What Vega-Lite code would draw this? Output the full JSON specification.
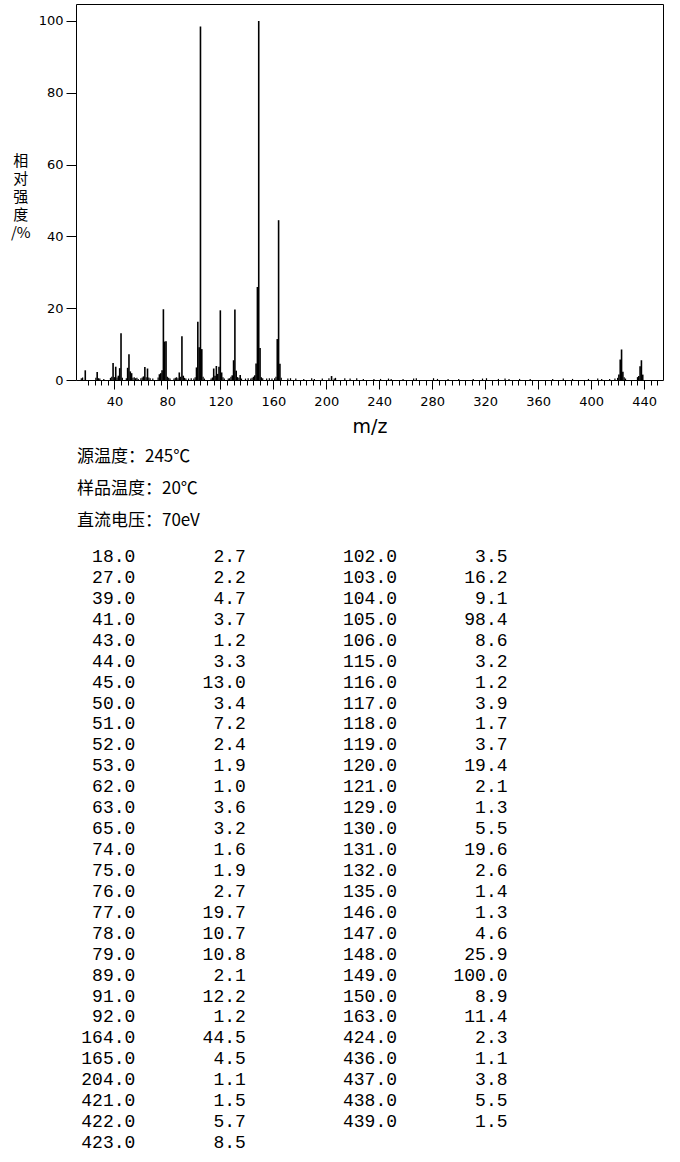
{
  "$schema": "https://vega.github.io/schema/vega-lite/v6.json",
  "background": "white",
  "padding": {"left": 9, "top": 3, "right": 0, "bottom": 0},
  "spacing": 4,
  "config": {"view": {"stroke": null}},
  "datasets": {
    "peaks": [
      {"mz": 18, "inten": 2.7, "col": 1, "row": 1},
      {"mz": 27, "inten": 2.2, "col": 1, "row": 2},
      {"mz": 39, "inten": 4.7, "col": 1, "row": 3},
      {"mz": 41, "inten": 3.7, "col": 1, "row": 4},
      {"mz": 43, "inten": 1.2, "col": 1, "row": 5},
      {"mz": 44, "inten": 3.3, "col": 1, "row": 6},
      {"mz": 45, "inten": 13.0, "col": 1, "row": 7},
      {"mz": 50, "inten": 3.4, "col": 1, "row": 8},
      {"mz": 51, "inten": 7.2, "col": 1, "row": 9},
      {"mz": 52, "inten": 2.4, "col": 1, "row": 10},
      {"mz": 53, "inten": 1.9, "col": 1, "row": 11},
      {"mz": 62, "inten": 1.0, "col": 1, "row": 12},
      {"mz": 63, "inten": 3.6, "col": 1, "row": 13},
      {"mz": 65, "inten": 3.2, "col": 1, "row": 14},
      {"mz": 74, "inten": 1.6, "col": 1, "row": 15},
      {"mz": 75, "inten": 1.9, "col": 1, "row": 16},
      {"mz": 76, "inten": 2.7, "col": 1, "row": 17},
      {"mz": 77, "inten": 19.7, "col": 1, "row": 18},
      {"mz": 78, "inten": 10.7, "col": 1, "row": 19},
      {"mz": 79, "inten": 10.8, "col": 1, "row": 20},
      {"mz": 89, "inten": 2.1, "col": 1, "row": 21},
      {"mz": 91, "inten": 12.2, "col": 1, "row": 22},
      {"mz": 92, "inten": 1.2, "col": 1, "row": 23},
      {"mz": 164, "inten": 44.5, "col": 1, "row": 24},
      {"mz": 165, "inten": 4.5, "col": 1, "row": 25},
      {"mz": 204, "inten": 1.1, "col": 1, "row": 26},
      {"mz": 421, "inten": 1.5, "col": 1, "row": 27},
      {"mz": 422, "inten": 5.7, "col": 1, "row": 28},
      {"mz": 423, "inten": 8.5, "col": 1, "row": 29},
      {"mz": 102, "inten": 3.5, "col": 2, "row": 1},
      {"mz": 103, "inten": 16.2, "col": 2, "row": 2},
      {"mz": 104, "inten": 9.1, "col": 2, "row": 3},
      {"mz": 105, "inten": 98.4, "col": 2, "row": 4},
      {"mz": 106, "inten": 8.6, "col": 2, "row": 5},
      {"mz": 115, "inten": 3.2, "col": 2, "row": 6},
      {"mz": 116, "inten": 1.2, "col": 2, "row": 7},
      {"mz": 117, "inten": 3.9, "col": 2, "row": 8},
      {"mz": 118, "inten": 1.7, "col": 2, "row": 9},
      {"mz": 119, "inten": 3.7, "col": 2, "row": 10},
      {"mz": 120, "inten": 19.4, "col": 2, "row": 11},
      {"mz": 121, "inten": 2.1, "col": 2, "row": 12},
      {"mz": 129, "inten": 1.3, "col": 2, "row": 13},
      {"mz": 130, "inten": 5.5, "col": 2, "row": 14},
      {"mz": 131, "inten": 19.6, "col": 2, "row": 15},
      {"mz": 132, "inten": 2.6, "col": 2, "row": 16},
      {"mz": 135, "inten": 1.4, "col": 2, "row": 17},
      {"mz": 146, "inten": 1.3, "col": 2, "row": 18},
      {"mz": 147, "inten": 4.6, "col": 2, "row": 19},
      {"mz": 148, "inten": 25.9, "col": 2, "row": 20},
      {"mz": 149, "inten": 100.0, "col": 2, "row": 21},
      {"mz": 150, "inten": 8.9, "col": 2, "row": 22},
      {"mz": 163, "inten": 11.4, "col": 2, "row": 23},
      {"mz": 424, "inten": 2.3, "col": 2, "row": 24},
      {"mz": 436, "inten": 1.1, "col": 2, "row": 25},
      {"mz": 437, "inten": 3.8, "col": 2, "row": 26},
      {"mz": 438, "inten": 5.5, "col": 2, "row": 27},
      {"mz": 439, "inten": 1.5, "col": 2, "row": 28}
    ],
    "minor": [
      {"mz": 15, "inten": 0.5}, {"mz": 16, "inten": 0.7}, {"mz": 26, "inten": 0.6}, {"mz": 28, "inten": 0.5},
      {"mz": 29, "inten": 0.4}, {"mz": 32, "inten": 0.3}, {"mz": 37, "inten": 0.6}, {"mz": 38, "inten": 0.9},
      {"mz": 40, "inten": 0.8}, {"mz": 42, "inten": 0.7}, {"mz": 46, "inten": 0.6}, {"mz": 49, "inten": 0.5},
      {"mz": 54, "inten": 0.6}, {"mz": 55, "inten": 0.8}, {"mz": 56, "inten": 0.5}, {"mz": 57, "inten": 0.6},
      {"mz": 58, "inten": 0.3}, {"mz": 60, "inten": 0.5}, {"mz": 61, "inten": 0.7}, {"mz": 64, "inten": 0.8},
      {"mz": 66, "inten": 0.7}, {"mz": 67, "inten": 0.5}, {"mz": 69, "inten": 0.4}, {"mz": 73, "inten": 0.7},
      {"mz": 80, "inten": 0.9}, {"mz": 81, "inten": 0.6}, {"mz": 82, "inten": 0.4}, {"mz": 85, "inten": 0.4},
      {"mz": 86, "inten": 0.6}, {"mz": 87, "inten": 0.8}, {"mz": 88, "inten": 0.5}, {"mz": 90, "inten": 0.9},
      {"mz": 93, "inten": 0.6}, {"mz": 94, "inten": 0.4}, {"mz": 96, "inten": 0.4}, {"mz": 98, "inten": 0.5},
      {"mz": 100, "inten": 0.4}, {"mz": 101, "inten": 0.8}, {"mz": 107, "inten": 0.9}, {"mz": 108, "inten": 0.4},
      {"mz": 113, "inten": 0.4}, {"mz": 114, "inten": 0.7}, {"mz": 122, "inten": 0.8}, {"mz": 123, "inten": 0.4},
      {"mz": 126, "inten": 0.4}, {"mz": 127, "inten": 0.5}, {"mz": 128, "inten": 0.9}, {"mz": 133, "inten": 0.8},
      {"mz": 134, "inten": 0.6}, {"mz": 136, "inten": 0.4}, {"mz": 139, "inten": 0.4}, {"mz": 141, "inten": 0.5},
      {"mz": 143, "inten": 0.4}, {"mz": 144, "inten": 0.6}, {"mz": 145, "inten": 0.9}, {"mz": 151, "inten": 0.8},
      {"mz": 152, "inten": 0.5}, {"mz": 155, "inten": 0.4}, {"mz": 157, "inten": 0.5}, {"mz": 159, "inten": 0.4},
      {"mz": 161, "inten": 0.5}, {"mz": 162, "inten": 0.9}, {"mz": 166, "inten": 0.6}, {"mz": 171, "inten": 0.4},
      {"mz": 173, "inten": 0.5}, {"mz": 177, "inten": 0.4}, {"mz": 183, "inten": 0.3}, {"mz": 189, "inten": 0.5},
      {"mz": 191, "inten": 0.3}, {"mz": 197, "inten": 0.4}, {"mz": 202, "inten": 0.5}, {"mz": 206, "inten": 0.4},
      {"mz": 207, "inten": 0.6}, {"mz": 214, "inten": 0.5}, {"mz": 218, "inten": 0.4}, {"mz": 223, "inten": 0.5},
      {"mz": 228, "inten": 0.3}, {"mz": 236, "inten": 0.3}, {"mz": 241, "inten": 0.3}, {"mz": 247, "inten": 0.4},
      {"mz": 249, "inten": 0.3}, {"mz": 258, "inten": 0.3}, {"mz": 266, "inten": 0.4}, {"mz": 268, "inten": 0.5},
      {"mz": 281, "inten": 0.5}, {"mz": 284, "inten": 0.3}, {"mz": 292, "inten": 0.3}, {"mz": 300, "inten": 0.3},
      {"mz": 311, "inten": 0.3}, {"mz": 318, "inten": 0.4}, {"mz": 321, "inten": 0.5}, {"mz": 330, "inten": 0.3},
      {"mz": 335, "inten": 0.4}, {"mz": 338, "inten": 0.3}, {"mz": 346, "inten": 0.3}, {"mz": 354, "inten": 0.3},
      {"mz": 371, "inten": 0.3}, {"mz": 379, "inten": 0.4}, {"mz": 386, "inten": 0.3}, {"mz": 398, "inten": 0.3},
      {"mz": 405, "inten": 0.4}, {"mz": 408, "inten": 0.3}, {"mz": 414, "inten": 0.3}, {"mz": 418, "inten": 0.4},
      {"mz": 420, "inten": 0.6}, {"mz": 425, "inten": 0.8}, {"mz": 426, "inten": 0.4}, {"mz": 435, "inten": 0.8}
    ],
    "info": [
      {"label": "源温度：245℃"},
      {"label": "样品温度：20℃"},
      {"label": "直流电压：70eV"}
    ]
  },
  "vconcat": [
    {
      "width": 587,
      "height": 376,
      "view": {"stroke": "black", "strokeWidth": 1},
      "layer": [
        {
          "data": {"name": "minor"},
          "mark": {"type": "rule", "color": "black", "strokeWidth": 1.2},
          "encoding": {
            "x": {
              "field": "mz", "type": "quantitative",
              "scale": {"domain": [11, 454.3], "nice": false, "zero": false},
              "axis": {
                "orient": "bottom",
                "values": [20,25,30,35,40,45,50,55,60,65,70,75,80,85,90,95,100,105,110,115,120,125,130,135,140,145,150,155,160,165,170,175,180,185,190,195,200,205,210,215,220,225,230,235,240,245,250,255,260,265,270,275,280,285,290,295,300,305,310,315,320,325,330,335,340,345,350,355,360,365,370,375,380,385,390,395,400,405,410,415,420,425,430,435,440,445,450],
                "labels": false, "title": null, "domain": false, "grid": false,
                "tickSize": 5, "tickColor": "black", "tickWidth": 1
              }
            },
            "y": {
              "field": "inten", "type": "quantitative",
              "scale": {"domain": [0, 104.7], "nice": false},
              "axis": {
                "values": [0,10,20,30,40,50,60,70,80,90,100],
                "labelExpr": "datum.value % 20 === 0 ? datum.label : ''",
                "tickSize": 10, "tickColor": "black", "tickWidth": 1,
                "labelPadding": 3, "labelFont": "DejaVu Sans", "labelFontSize": 13, "labelColor": "black",
                "domain": false, "grid": false,
                "title": ["相", "对", "强", "度", "/%"],
                "titleAngle": 0, "titleX": -55.7, "titleY": 149,
                "titleAlign": "center", "titleBaseline": "top",
                "titleFont": "Noto Sans CJK SC", "titleFontSize": 15, "titleFontWeight": "normal",
                "titleLineHeight": 18, "titleColor": "black"
              }
            },
            "y2": {"datum": 0}
          }
        },
        {
          "data": {"name": "peaks"},
          "mark": {"type": "rule", "color": "black", "strokeWidth": 1.6},
          "encoding": {
            "x": {
              "field": "mz", "type": "quantitative",
              "scale": {"domain": [11, 454.3], "nice": false, "zero": false},
              "axis": {
                "orient": "bottom",
                "values": [40,80,120,160,200,240,280,320,360,400,440],
                "domain": false, "grid": false,
                "tickSize": 9, "tickColor": "black", "tickWidth": 1,
                "labelPadding": 6, "labelFont": "DejaVu Sans", "labelFontSize": 13, "labelColor": "black",
                "title": "m/z", "titlePadding": 9, "titleFont": "DejaVu Sans", "titleFontSize": 19,
                "titleFontWeight": "normal", "titleColor": "black"
              }
            },
            "y": {"field": "inten", "type": "quantitative"},
            "y2": {"datum": 0}
          }
        }
      ],
      "resolve": {"axis": {"x": "independent"}}
    },
    {
      "width": 587,
      "height": {"step": 32},
      "data": {"name": "info"},
      "mark": {"type": "text", "align": "left", "baseline": "middle", "font": "Noto Sans CJK SC", "fontSize": 17, "color": "black", "dx": 1},
      "encoding": {
        "x": {"datum": 0, "type": "quantitative", "scale": {"domain": [0, 1], "nice": false, "zero": false}, "axis": null},
        "y": {"field": "label", "type": "nominal", "sort": null, "axis": null},
        "text": {"field": "label", "type": "nominal"}
      }
    },
    {
      "width": 587,
      "height": {"step": 20.93},
      "data": {"name": "peaks"},
      "encoding": {
        "x": {"field": "col", "type": "quantitative", "scale": {"domain": [0.7734, 3.0165], "nice": false, "zero": false}, "axis": null},
        "y": {"field": "row", "type": "ordinal", "axis": null, "scale": {"padding": 0.765}}
      },
      "layer": [
        {
          "mark": {"type": "text", "align": "right", "baseline": "middle", "font": "Liberation Mono", "fontSize": 18, "color": "black"},
          "encoding": {"text": {"field": "mz", "type": "quantitative", "format": ".1f"}}
        },
        {
          "mark": {"type": "text", "align": "right", "baseline": "middle", "font": "Liberation Mono", "fontSize": 18, "color": "black", "dx": 110.5},
          "encoding": {"text": {"field": "inten", "type": "quantitative", "format": ".1f"}}
        }
      ]
    }
  ]
}
